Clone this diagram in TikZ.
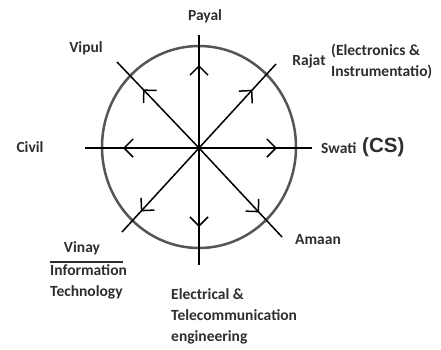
\documentclass[tikz,border=0pt]{standalone}
\usepackage{fontspec}
\setmainfont{Carlito}
\newfontfamily\arialfont{Liberation Sans}
\usetikzlibrary{arrows.meta,decorations.markings}
\definecolor{txt}{HTML}{2e2e2e}
\definecolor{ring}{HTML}{555555}
\tikzset{
  lbl/.style={font=\bfseries\fontsize{15.5}{21}\selectfont, text=txt, inner sep=0pt, align=left},
  ray/.style={line width=1.5pt, draw=black, postaction={decorate},
    decoration={markings, mark=at position #1 with {\arrow{Straight Barb[length=9pt,width=18pt,line width=1.5pt]}}}},
}
\begin{document}
\begin{tikzpicture}[x=1pt,y=-1pt]
\useasboundingbox (0,0) rectangle (441,349);
\draw[ring, line width=2.5pt] (199,147) ellipse [x radius=97, y radius=101];
\coordinate (c) at (199,148);
\coordinate (n) at (199,35);
\coordinate (s) at (199,265);
\coordinate (e) at (312,148);
\coordinate (w) at (85,148);
\coordinate (ne) at (276,64);
\coordinate (sw) at (122,232);
\coordinate (nw) at (117,62);
\coordinate (se) at (282,237);
\draw[ray=83pt] (c) -- (n);
\draw[ray=79pt] (c) -- (s);
\draw[ray=78pt] (c) -- (e);
\draw[ray=76pt] (c) -- (w);
\draw[ray=79pt] (c) -- (ne);
\draw[ray=86pt] (c) -- (sw);
\draw[ray=81pt] (c) -- (nw);
\draw[ray=88pt] (c) -- (se);
\node[lbl] (payal) at (205,16) {Payal};
\node[lbl] (vipul) at (86,48) {Vipul};
\node[lbl] (rajat) at (309,61) {Rajat};
\node[lbl, anchor=west] (ei) at (331,61) {(Electronics \&\\Instrumentatio)};
\node[lbl] (civil) at (30,147) {Civil};
\node[lbl, anchor=west] (swati) at (321,148) {Swati};
\node[anchor=west, inner sep=0pt, text=txt, font=\arialfont\bfseries\fontsize{20.5}{22}\selectfont] (cs) at (362,147) {(CS)};
\node[lbl, anchor=west] (amaan) at (295,240) {Amaan};
\node[lbl] (vinay) at (82,248) {Vinay};
\draw[txt, line width=1.2pt] (50,262) -- (123,262);
\node[lbl, anchor=north west] (it) at (50,264) {Information\\Technology};
\node[lbl, anchor=north west] (etc) at (171,288) {Electrical \&\\Telecommunication\\engineering};
\end{tikzpicture}
\end{document}
